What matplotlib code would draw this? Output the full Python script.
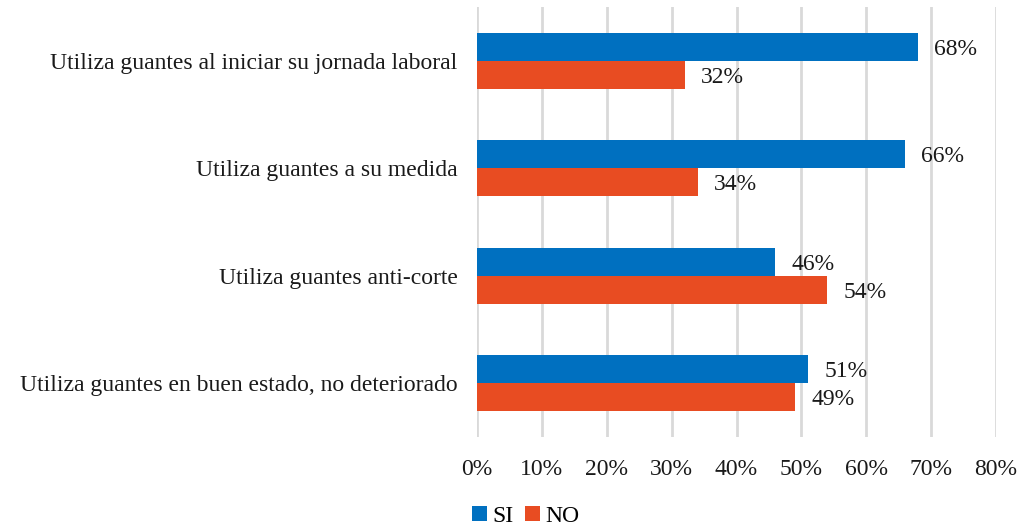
import numpy as np
import matplotlib
matplotlib.use('Agg')
import matplotlib.pyplot as plt
from matplotlib.ticker import MultipleLocator, FuncFormatter

plt.rcParams['font.family'] = ['Liberation Serif', 'DejaVu Serif']

categorias = ['Utiliza guantes al iniciar su jornada laboral',
              'Utiliza guantes a su medida',
              'Utiliza guantes anti-corte',
              'Utiliza guantes en buen estado, no deteriorado']
si = [68, 66, 46, 51]
no = [32, 34, 54, 49]

azul = '#0070C0'
rojo = '#E84C22'

fig = plt.figure(figsize=(10.21, 5.28), dpi=100)
ax = fig.add_axes([477/1021, 1-437/528, 519/1021, 430/528])

y = np.arange(len(categorias))
h = 0.26
b1 = ax.barh(y - h/2, si, height=h, color=azul, label='SI', zorder=3)
b2 = ax.barh(y + h/2, no, height=h, color=rojo, label='NO', zorder=3)

for bars, vals in ((b1, si), (b2, no)):
    for bar, v in zip(bars, vals):
        ax.text(v + 2.5, bar.get_y() + bar.get_height()/2, '%d%%' % v,
                va='center_baseline', ha='left', fontsize=17, color='#1a1a1a')

ax.set_ylim(len(categorias) - 0.5, -0.5)
ax.set_xlim(0, 80)
ax.set_yticks(y)
ax.set_yticklabels(categorias, fontsize=17, color='#1a1a1a')
ax.xaxis.set_major_locator(MultipleLocator(10))
ax.xaxis.set_major_formatter(FuncFormatter(lambda v, p: '%d%%' % v))
ax.tick_params(axis='x', labelsize=17, colors='#1a1a1a', length=0, pad=16)
ax.tick_params(axis='y', length=0, pad=14)
ax.grid(axis='x', color='#D9D9D9', linewidth=2, zorder=0)
for s in ax.spines.values():
    s.set_visible(False)

fig.legend(handles=[b1, b2], labels=['SI', 'NO'], loc='center',
           bbox_to_anchor=(526/1021, 1-516/528), ncol=2, frameon=False,
           fontsize=17, handlelength=0.6, handleheight=0.6, handletextpad=0.25,
           columnspacing=0.5, borderpad=0)

fig.savefig('out.png', dpi=100)
